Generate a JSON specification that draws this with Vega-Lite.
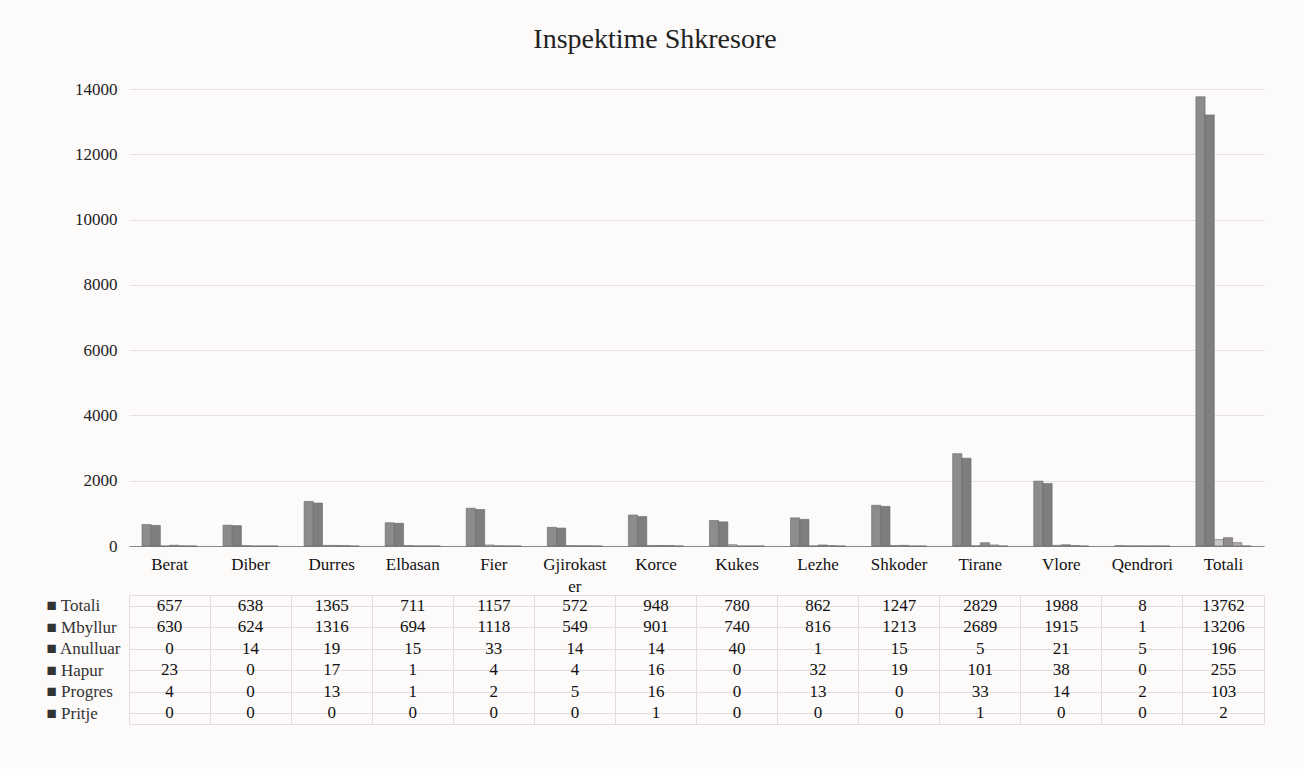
{
  "$schema": "https://vega.github.io/schema/vega-lite/v6.json",
  "background": "#fdfafa",
  "padding": {"left": 45, "top": 26, "right": 39, "bottom": 44},
  "title": {"text": "Inspektime Shkresore", "fontSize": 28, "font": "Liberation Serif", "fontWeight": "normal", "color": "#222", "offset": 26, "anchor": "middle"},
  "datasets": {
    "d": [
      {"region": "Berat", "series": "Totali", "value": 657},
      {"region": "Diber", "series": "Totali", "value": 638},
      {"region": "Durres", "series": "Totali", "value": 1365},
      {"region": "Elbasan", "series": "Totali", "value": 711},
      {"region": "Fier", "series": "Totali", "value": 1157},
      {"region": "Gjirokaster", "series": "Totali", "value": 572},
      {"region": "Korce", "series": "Totali", "value": 948},
      {"region": "Kukes", "series": "Totali", "value": 780},
      {"region": "Lezhe", "series": "Totali", "value": 862},
      {"region": "Shkoder", "series": "Totali", "value": 1247},
      {"region": "Tirane", "series": "Totali", "value": 2829},
      {"region": "Vlore", "series": "Totali", "value": 1988},
      {"region": "Qendrori", "series": "Totali", "value": 8},
      {"region": "Totali", "series": "Totali", "value": 13762},
      {"region": "Berat", "series": "Mbyllur", "value": 630},
      {"region": "Diber", "series": "Mbyllur", "value": 624},
      {"region": "Durres", "series": "Mbyllur", "value": 1316},
      {"region": "Elbasan", "series": "Mbyllur", "value": 694},
      {"region": "Fier", "series": "Mbyllur", "value": 1118},
      {"region": "Gjirokaster", "series": "Mbyllur", "value": 549},
      {"region": "Korce", "series": "Mbyllur", "value": 901},
      {"region": "Kukes", "series": "Mbyllur", "value": 740},
      {"region": "Lezhe", "series": "Mbyllur", "value": 816},
      {"region": "Shkoder", "series": "Mbyllur", "value": 1213},
      {"region": "Tirane", "series": "Mbyllur", "value": 2689},
      {"region": "Vlore", "series": "Mbyllur", "value": 1915},
      {"region": "Qendrori", "series": "Mbyllur", "value": 1},
      {"region": "Totali", "series": "Mbyllur", "value": 13206},
      {"region": "Berat", "series": "Anulluar", "value": 0},
      {"region": "Diber", "series": "Anulluar", "value": 14},
      {"region": "Durres", "series": "Anulluar", "value": 19},
      {"region": "Elbasan", "series": "Anulluar", "value": 15},
      {"region": "Fier", "series": "Anulluar", "value": 33},
      {"region": "Gjirokaster", "series": "Anulluar", "value": 14},
      {"region": "Korce", "series": "Anulluar", "value": 14},
      {"region": "Kukes", "series": "Anulluar", "value": 40},
      {"region": "Lezhe", "series": "Anulluar", "value": 1},
      {"region": "Shkoder", "series": "Anulluar", "value": 15},
      {"region": "Tirane", "series": "Anulluar", "value": 5},
      {"region": "Vlore", "series": "Anulluar", "value": 21},
      {"region": "Qendrori", "series": "Anulluar", "value": 5},
      {"region": "Totali", "series": "Anulluar", "value": 196},
      {"region": "Berat", "series": "Hapur", "value": 23},
      {"region": "Diber", "series": "Hapur", "value": 0},
      {"region": "Durres", "series": "Hapur", "value": 17},
      {"region": "Elbasan", "series": "Hapur", "value": 1},
      {"region": "Fier", "series": "Hapur", "value": 4},
      {"region": "Gjirokaster", "series": "Hapur", "value": 4},
      {"region": "Korce", "series": "Hapur", "value": 16},
      {"region": "Kukes", "series": "Hapur", "value": 0},
      {"region": "Lezhe", "series": "Hapur", "value": 32},
      {"region": "Shkoder", "series": "Hapur", "value": 19},
      {"region": "Tirane", "series": "Hapur", "value": 101},
      {"region": "Vlore", "series": "Hapur", "value": 38},
      {"region": "Qendrori", "series": "Hapur", "value": 0},
      {"region": "Totali", "series": "Hapur", "value": 255},
      {"region": "Berat", "series": "Progres", "value": 4},
      {"region": "Diber", "series": "Progres", "value": 0},
      {"region": "Durres", "series": "Progres", "value": 13},
      {"region": "Elbasan", "series": "Progres", "value": 1},
      {"region": "Fier", "series": "Progres", "value": 2},
      {"region": "Gjirokaster", "series": "Progres", "value": 5},
      {"region": "Korce", "series": "Progres", "value": 16},
      {"region": "Kukes", "series": "Progres", "value": 0},
      {"region": "Lezhe", "series": "Progres", "value": 13},
      {"region": "Shkoder", "series": "Progres", "value": 0},
      {"region": "Tirane", "series": "Progres", "value": 33},
      {"region": "Vlore", "series": "Progres", "value": 14},
      {"region": "Qendrori", "series": "Progres", "value": 2},
      {"region": "Totali", "series": "Progres", "value": 103},
      {"region": "Berat", "series": "Pritje", "value": 0},
      {"region": "Diber", "series": "Pritje", "value": 0},
      {"region": "Durres", "series": "Pritje", "value": 0},
      {"region": "Elbasan", "series": "Pritje", "value": 0},
      {"region": "Fier", "series": "Pritje", "value": 0},
      {"region": "Gjirokaster", "series": "Pritje", "value": 0},
      {"region": "Korce", "series": "Pritje", "value": 1},
      {"region": "Kukes", "series": "Pritje", "value": 0},
      {"region": "Lezhe", "series": "Pritje", "value": 0},
      {"region": "Shkoder", "series": "Pritje", "value": 0},
      {"region": "Tirane", "series": "Pritje", "value": 1},
      {"region": "Vlore", "series": "Pritje", "value": 0},
      {"region": "Qendrori", "series": "Pritje", "value": 0},
      {"region": "Totali", "series": "Pritje", "value": 2}
    ]
  },
  "data": {"name": "d"},
  "spacing": 0,
  "vconcat": [
    {
      "width": 1135,
      "height": 457,
      "mark": {"type": "bar", "stroke": "#666", "strokeWidth": 0.6},
      "encoding": {
        "x": {
          "field": "region", "type": "nominal",
          "sort": ["Berat", "Diber", "Durres", "Elbasan", "Fier", "Gjirokaster", "Korce", "Kukes", "Lezhe", "Shkoder", "Tirane", "Vlore", "Qendrori", "Totali"],
          "scale": {"paddingInner": 0.32, "paddingOuter": 0.16},
          "axis": {"title": null, "ticks": false, "domainColor": "#888", "grid": false, "labelAngle": 0, "labelPadding": 10, "labelFontSize": 17, "labelColor": "#111", "labelLineHeight": 22, "labelBaseline": "top", "labelExpr": "datum.label == 'Gjirokaster' ? ['Gjirokast', 'er'] : datum.label"}
        },
        "xOffset": {
          "field": "series", "type": "nominal",
          "sort": ["Totali", "Mbyllur", "Anulluar", "Hapur", "Progres", "Pritje"]
        },
        "y": {
          "field": "value", "type": "quantitative",
          "scale": {"domain": [0, 14000]},
          "axis": {"values": [0, 2000, 4000, 6000, 8000, 10000, 12000, 14000], "format": "d", "title": null, "ticks": false, "domain": false, "labelPadding": 12, "labelFontSize": 17, "labelColor": "#222", "gridColor": "#e6e0e0"}
        },
        "color": {
          "field": "series", "type": "nominal",
          "scale": {"domain": ["Totali", "Mbyllur", "Anulluar", "Hapur", "Progres", "Pritje"], "range": ["#8c8c8c", "#7e7e7e", "#c8c8c8", "#8f8b8d", "#b3adb0", "#d6d6d6"]},
          "legend": null
        }
      }
    },
    {
      "width": 1135,
      "height": 129,
      "view": {"stroke": "#e2dcdc"},
      "mark": {"type": "text", "fontSize": 17, "color": "#111"},
      "encoding": {
        "x": {
          "field": "region", "type": "nominal",
          "sort": ["Berat", "Diber", "Durres", "Elbasan", "Fier", "Gjirokaster", "Korce", "Kukes", "Lezhe", "Shkoder", "Tirane", "Vlore", "Qendrori", "Totali"],
          "scale": {"type": "band", "paddingInner": 0, "paddingOuter": 0},
          "axis": {"title": null, "ticks": false, "domain": false, "labels": false, "grid": true, "bandPosition": 0, "gridColor": "#e2dcdc"}
        },
        "y": {
          "field": "series", "type": "nominal",
          "sort": ["Totali", "Mbyllur", "Anulluar", "Hapur", "Progres", "Pritje"],
          "axis": {"title": null, "ticks": false, "domain": false, "labelExpr": "'■ ' + datum.label", "labelAlign": "left", "labelPadding": 83, "labelFontSize": 17, "labelColor": "#333", "grid": true, "bandPosition": 0, "gridColor": "#e2dcdc"}
        },
        "text": {"field": "value", "type": "quantitative"}
      }
    }
  ],
  "config": {"font": "Liberation Serif", "view": {"stroke": null}}
}
